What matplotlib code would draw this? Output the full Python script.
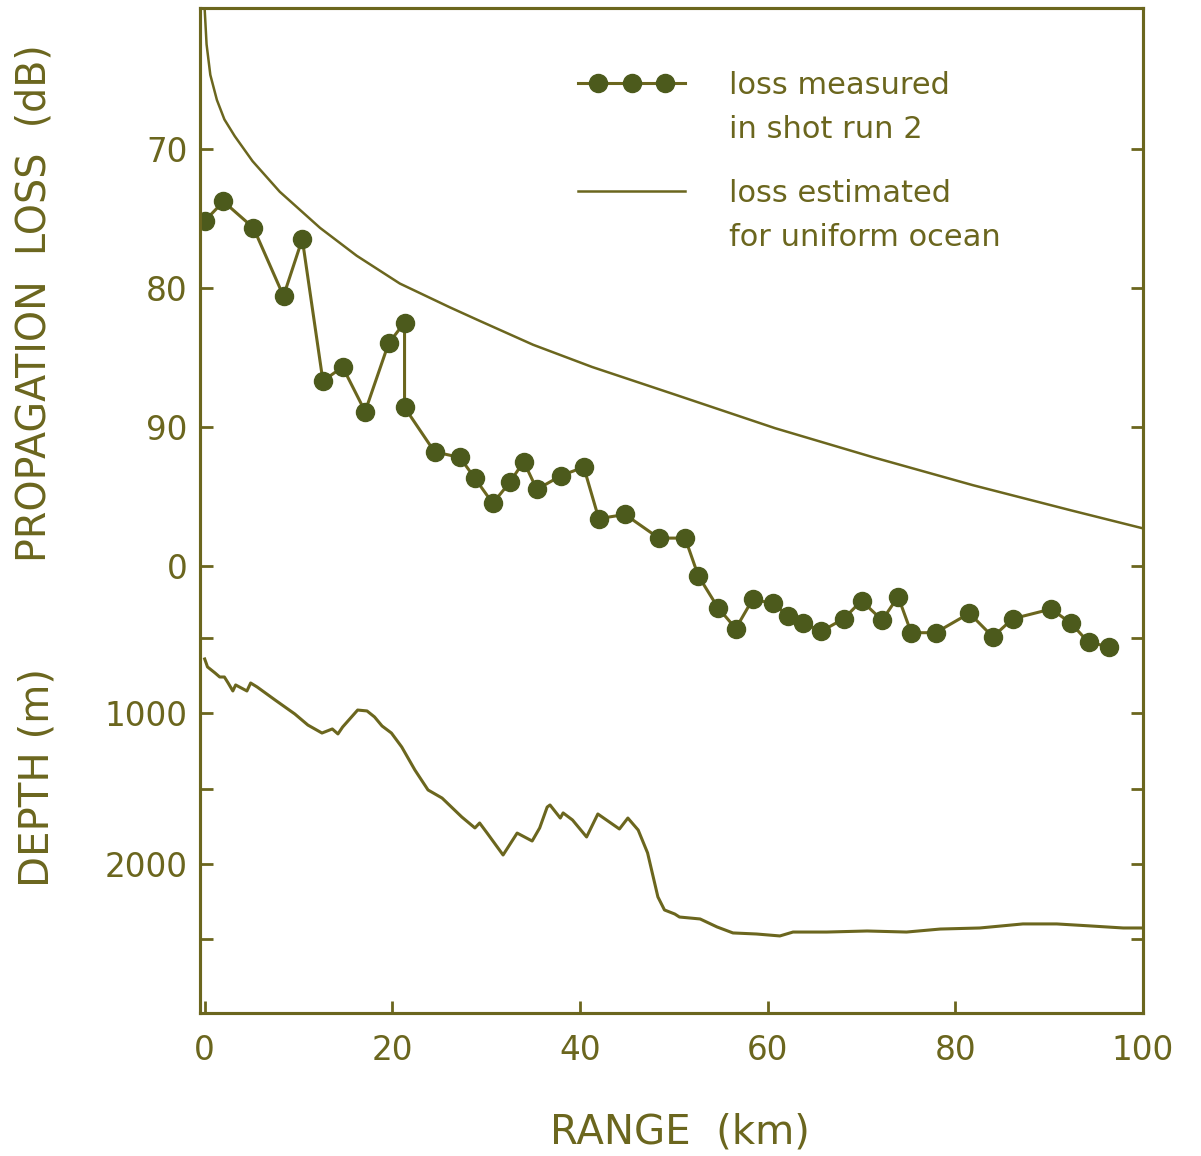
import numpy as np
import matplotlib.pyplot as plt
from matplotlib.legend_handler import HandlerLine2D

# loss measured in shot run 2 (range km, loss dB)
range_measured = [0.0, 2.0, 5.2, 8.4, 10.4, 12.6, 14.7, 17.1, 19.6, 21.3, 21.3,
                  24.5, 27.2, 28.8, 30.7, 32.5, 34.0, 35.4, 38.0, 40.4, 42.0,
                  44.8, 48.4, 51.2, 52.6, 54.7, 56.6, 58.4, 60.6, 62.2, 63.8,
                  65.7, 68.1, 70.0, 72.2, 73.9, 75.3, 77.9, 81.5, 84.0, 86.1,
                  90.2, 92.3, 94.2, 96.4]
loss_measured = [75.2, 73.8, 75.7, 80.6, 76.5, 86.7, 85.7, 88.9, 84.0, 82.5, 88.6,
                 91.8, 92.2, 93.7, 95.5, 94.0, 92.5, 94.5, 93.5, 92.9, 96.6,
                 96.3, 98.0, 98.0, 100.7, 103.0, 104.5, 102.4, 102.7, 103.6, 104.1,
                 104.7, 103.8, 102.5, 103.9, 102.2, 104.8, 104.8, 103.4, 105.1, 103.8,
                 103.1, 104.1, 105.5, 105.8]

# loss estimated for uniform ocean
range_estimated = [0.0, 0.2, 0.6, 1.3, 2.1, 3.2, 5.1, 8.0, 12.3, 16.2, 20.8,
                   26.1, 29.2, 35.0, 41.3, 50.2, 60.8, 71.3, 81.9, 92.3, 100.0]
loss_estimated = [60.0, 62.5, 64.7, 66.5, 67.9, 69.1, 70.9, 73.1, 75.7, 77.7, 79.7,
                  81.4, 82.35, 84.1, 85.7, 87.7, 90.1, 92.2, 94.2, 96.0, 97.3]

# bottom depth along the track (range km, depth m)
range_depth = [0.0, 0.3, 1.1, 1.6, 2.1, 2.5, 3.0, 3.3, 3.9, 4.5, 4.9, 5.6, 7.5,
               9.6, 11.0, 12.5, 13.6, 14.2, 14.7, 16.3, 17.3, 18.1, 18.9, 19.9,
               21.0, 22.4, 23.8, 25.3, 27.4, 28.8, 29.3, 30.1, 31.8, 33.3, 34.9,
               35.7, 36.5, 36.8, 37.9, 38.2, 39.2, 40.7, 41.9, 44.2, 45.1, 46.2,
               47.2, 48.3, 49.0, 50.1, 50.6, 52.8, 54.6, 56.3, 58.8, 61.3, 62.7,
               66.3, 70.6, 74.8, 78.4, 82.6, 87.2, 90.8, 94.3, 97.9, 100.0]
depth = [637, 690, 730, 757, 757, 797, 850, 810, 830, 850, 797, 824, 910,
         1003, 1077, 1130, 1103, 1136, 1090, 977, 983, 1023, 1083, 1130,
         1223, 1376, 1509, 1563, 1689, 1762, 1729, 1796, 1942, 1796, 1849,
         1762, 1623, 1609, 1696, 1662, 1709, 1822, 1669, 1769, 1696, 1776,
         1928, 2221, 2308, 2335, 2355, 2368, 2421, 2461, 2468, 2481, 2455,
         2455, 2448, 2455, 2435, 2428, 2401, 2401, 2414, 2428, 2428]

x_ticks = [0, 20, 40, 60, 80, 100]
loss_ticks = [70, 80, 90, 100]
loss_labels = ['70', '80', '90', '0']
depth_ticks = [500, 1000, 1500, 2000, 2500]
depth_labels = ['', '1000', '', '2000', '']

OLIVE = '#6b661e'
DOT = '#4c5a1c'


class FirstLineHandler(HandlerLine2D):
    # key sits level with the first line of a two-line label,
    # optionally with the line running past the end dots
    def __init__(self, extend=False, **kw):
        super().__init__(**kw)
        self.extend = extend

    def create_artists(self, legend, orig_handle, xdescent, ydescent,
                       width, height, fontsize, trans):
        arts = super().create_artists(legend, orig_handle, xdescent, ydescent,
                                      width, height, fontsize, trans)
        line = arts[0]
        x = np.asarray(line.get_xdata(), float)
        y = np.asarray(line.get_ydata(), float) + 0.85 * fontsize
        if self.extend:
            x = np.concatenate([[-xdescent], x, [width - xdescent]])
            y = np.full_like(x, y[0])
            line.set_markevery(list(range(1, len(x) - 1)))
        line.set_data(x, y)
        return arts


fig = plt.figure(figsize=(12.01, 11.56), dpi=100)
ax = fig.add_axes([200 / 1201, 1 - 1013 / 1156, 943 / 1201, 1005 / 1156])

h_est, = ax.plot(range_estimated, loss_estimated, color=OLIVE, lw=1.8)
h_meas, = ax.plot(range_measured, loss_measured, color=OLIVE, lw=2.2,
                  marker='o', ms=13, mfc=DOT, mec=DOT)
ax.set_xlim(-0.5, 100)
ax.set_ylim(132.14, 59.89)

ax2 = ax.twinx()
ax2.plot(range_depth, depth, color=OLIVE, lw=2.2)
ax2.set_ylim(2994, -3697)

ax.set_xticks(x_ticks)
ax.set_yticks(loss_ticks)
ax.set_yticklabels(loss_labels)
ax2.set_yticks(depth_ticks)
ax2.set_yticklabels(depth_labels)

ax.tick_params(axis='y', direction='in', length=9, width=2, color=OLIVE,
               labelcolor=OLIVE, labelsize=23.5, left=True, right=True,
               labelleft=True, labelright=False, pad=9)
ax.tick_params(axis='x', direction='in', length=9, width=2, color=OLIVE,
               labelcolor=OLIVE, labelsize=23.5, top=False, pad=15)
ax2.tick_params(axis='y', direction='in', length=9, width=2, color=OLIVE,
                labelcolor=OLIVE, labelsize=23.5, left=True, right=True,
                labelleft=True, labelright=False, pad=9)

for a in (ax, ax2):
    for s in a.spines.values():
        s.set_color(OLIVE)
        s.set_linewidth(2.2)

leg = ax.legend(handles=[h_meas, h_est],
                labels=['loss measured\nin shot run 2', 'loss estimated\nfor uniform ocean'],
                loc='upper left', bbox_to_anchor=(0.401, 0.937), frameon=False,
                fontsize=22, handlelength=3.5, handletextpad=1.45, labelspacing=1.15,
                borderpad=0, borderaxespad=0, labelcolor=OLIVE,
                handler_map={h_meas: FirstLineHandler(extend=True, numpoints=3, marker_pad=0.65),
                             h_est: FirstLineHandler()})
for t in leg.get_texts():
    t.set_linespacing(1.65)

fig.text(0.029, 0.738, 'PROPAGATION  LOSS  (dB)', rotation=90, ha='center', va='center',
         fontsize=28.5, color=OLIVE)
fig.text(0.031, 0.327, 'DEPTH (m)', rotation=90, ha='center', va='center',
         fontsize=29, color=OLIVE)
fig.text(0.566, 0.020, 'RANGE  (km)', ha='center', va='center', fontsize=29, color=OLIVE)

fig.savefig('out.png', dpi=100)
